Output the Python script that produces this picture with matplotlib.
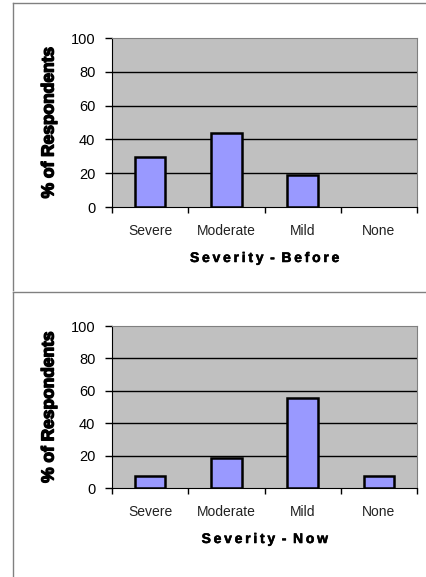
import matplotlib.pyplot as plt
import matplotlib.patheffects as pe
from matplotlib.lines import Line2D
import numpy as np

plt.rcParams['font.family'] = ['Liberation Sans', 'DejaVu Sans']

categories = ['Severe', 'Moderate', 'Mild', 'None']
before = [29.5, 44, 19, 0]
now = [7.5, 18.5, 55.5, 7.5]
yticks = [0, 20, 40, 60, 80, 100]

W, H = 426, 577
fig = plt.figure(figsize=(W / 100, H / 100), dpi=100)


def px_axes(x0, y0, x1, y1):
    # pixel box (top-left origin) -> figure fraction
    return fig.add_axes([x0 / W, 1 - y1 / H, (x1 - x0) / W, (y1 - y0) / H])


def spaced(s):
    # letter-spaced title like the original
    words = s.split(' ')
    return ' \u2009'.join('\u2009'.join(w) for w in words)


def draw_panel(ax, values, xlabel, h_px):
    x = np.arange(len(categories))
    ax.set_facecolor('#C0C0C0')
    lw = [1.8 if v > 0 else 0 for v in values]
    ax.bar(x, values, width=0.4, color='#9999FF', edgecolor='black',
           linewidth=lw, zorder=3)
    ax.set_xlim(-0.5, len(categories) - 0.5)
    ax.set_ylim(0, 100)
    ax.set_yticks(yticks)
    ax.set_yticklabels([str(t) for t in yticks], fontsize=10.5)
    for t in yticks[1:-1]:
        ax.axhline(t, color='black', linewidth=1, zorder=1)
    # category labels between boundary ticks
    ax.set_xticks(np.arange(len(categories) + 1) - 0.5)
    ax.set_xticklabels([])
    ax.set_xticks(x, minor=True)
    ax.set_xticklabels(categories, minor=True, fontsize=10, color='#222222')
    ax.tick_params(axis='x', which='minor', length=0, pad=12)
    ax.tick_params(axis='x', which='major', length=4, width=1, direction='out')
    ax.tick_params(axis='y', length=5, width=1, direction='out', pad=7)
    for s in ['top', 'right']:
        ax.spines[s].set_color('#808080')
    for s in ['left', 'bottom']:
        ax.spines[s].set_color('black')
    ax.text(0.5, -51 / h_px, spaced(xlabel), transform=ax.transAxes,
            ha='center', va='center', fontsize=10, fontweight='bold',
            path_effects=[pe.withStroke(linewidth=0.4, foreground='black')])
    ax.text(-63 / 305, 0.5, '% of Respondents', transform=ax.transAxes,
            rotation=90, ha='center', va='center', fontsize=12.5,
            fontweight='bold',
            path_effects=[pe.withStroke(linewidth=1.0, foreground='black')])


ax1 = px_axes(112, 38, 417, 207)
draw_panel(ax1, before, 'Severity - Before', 169)
ax2 = px_axes(112, 326, 417, 488)
draw_panel(ax2, now, 'Severity - Now', 162)

# panel frames
frame = dict(color='#808080', linewidth=1, transform=fig.transFigure)
fig.add_artist(Line2D([13 / W, 1], [1 - 3 / H, 1 - 3 / H], **frame))
fig.add_artist(Line2D([13 / W, 13 / W], [1 - 3 / H, 1 - 290 / H], **frame))
fig.add_artist(Line2D([13 / W, 1], [1 - 292 / H, 1 - 292 / H], **frame))
fig.add_artist(Line2D([13 / W, 13 / W], [1 - 292 / H, 0], **frame))

fig.savefig('out.png', dpi=100)
